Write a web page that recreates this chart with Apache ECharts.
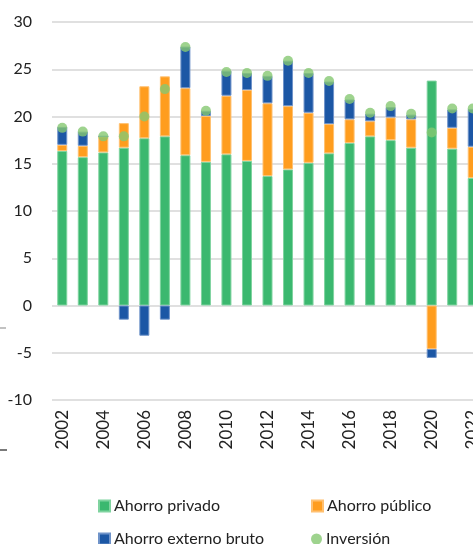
<!DOCTYPE html>
<html>
<head>
<meta charset="utf-8">
<script src="https://cdn.jsdelivr.net/npm/echarts@6/dist/echarts.min.js"></script>
<style>
  html, body { margin: 0; padding: 0; overflow: hidden; background: #fff; }
  #chart { width: 483px; height: 544px; }
</style>
</head>
<body>
<div id="chart"></div>
<script>
// datos (% del PIB)
var years = ['2002','2003','2004','2005','2006','2007','2008','2009','2010','2011','2012',
             '2013','2014','2015','2016','2017','2018','2019','2020','2021','2022'];
var ahorroPrivado = [16.35,15.7,16.2,16.7,17.7,17.9,15.9,15.2,16.0,15.3,13.7,14.4,15.1,16.1,17.2,17.9,17.5,16.7,23.8,16.6,13.5];
var ahorroPublico = [0.65,1.2,1.7,2.6,5.5,6.35,7.1,4.85,6.2,7.5,7.7,6.7,5.3,3.1,2.5,1.6,2.4,3.0,-4.6,2.2,3.3];
var ahorroExterno = [1.9,1.5,0,-1.5,-3.2,-1.5,4.4,0.55,2.65,1.8,2.9,4.8,4.2,4.5,2.1,0.8,1.1,0.5,-0.95,1.95,4.0];
var inversion = [18.8,18.4,17.9,17.9,20.0,22.9,27.35,20.6,24.7,24.6,24.3,25.9,24.6,23.75,21.85,20.4,21.1,20.3,18.3,20.85,20.85];

var Chart = echarts.init(document.getElementById('chart'));
var fontFam = 'Lato, "Open Sans", sans-serif';

function barSerie(name, data, color, border) {
  return {
    name: name,
    type: 'bar',
    stack: 'ahorro',
    barWidth: 10,
    data: data,
    itemStyle: { color: color, borderColor: border, borderWidth: 1 }
  };
}

// una leyenda por elemento, para colocarlas en 2 columnas
function leyenda(name, icon, left, top) {
  return {
    left: left, top: top,
    itemWidth: 11, itemHeight: 11, itemGap: 0,
    textStyle: { fontSize: 16, color: '#222', fontFamily: fontFam, padding: [0, 0, 0, -1] },
    data: [{ name: name, icon: icon }]
  };
}

var option = {
  backgroundColor: '#ffffff',
  animation: false,
  grid: { left: 52, right: 0, top: 22, bottom: 144 },
  legend: [
    leyenda('Ahorro privado', 'rect', 93, 493),
    leyenda('Ahorro público', 'rect', 306, 493),
    leyenda('Ahorro externo bruto', 'rect', 93, 526),
    leyenda('Inversión', 'circle', 306, 526)
  ],
  xAxis: {
    type: 'category',
    data: years,
    position: 'bottom',
    axisLine: { show: false },
    axisTick: { show: false },
    axisLabel: { interval: 1, rotate: 90, margin: 10, fontSize: 17, color: '#222', fontFamily: fontFam }
  },
  yAxis: {
    type: 'value',
    min: -10, max: 30, interval: 5,
    axisLine: { show: false },
    axisTick: { show: false },
    axisLabel: { margin: 20, fontSize: 16, color: '#222', fontFamily: fontFam },
    splitLine: { lineStyle: { color: '#d6d6d6', width: 1.5 } }
  },
  series: [
    barSerie('Ahorro privado', ahorroPrivado, '#3bb86f', '#7fd39f'),
    barSerie('Ahorro público', ahorroPublico, '#ff9d1e', '#ffc070'),
    barSerie('Ahorro externo bruto', ahorroExterno, '#1c57a5', '#6f93c9'),
    {
      name: 'Inversión',
      type: 'scatter',
      symbol: 'circle',
      symbolSize: 10,
      data: inversion,
      itemStyle: { color: '#86c872' },
      z: 5
    }
  ],
  graphic: [
    { type: 'line', shape: { x1: 0, y1: 328, x2: 6, y2: 328 }, style: { stroke: '#999', lineWidth: 1.2 } },
    { type: 'line', shape: { x1: 0, y1: 450, x2: 7, y2: 450 }, style: { stroke: '#222', lineWidth: 1.2 } }
  ]
};
Chart.setOption(option);
</script>
</body>
</html>
